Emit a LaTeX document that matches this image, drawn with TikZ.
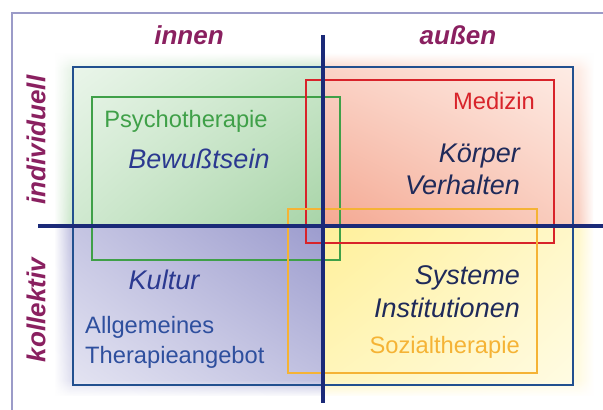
\documentclass[tikz,border=0pt]{standalone}
\usepackage{fontspec}
\setmainfont{Liberation Sans}
\usetikzlibrary{shadings,fadings}
\definecolor{frameC}{HTML}{9B9BC8}
\definecolor{axisC}{HTML}{1B2A78}
\definecolor{blueR}{HTML}{22508F}
\definecolor{redR}{HTML}{D8232A}
\definecolor{greenR}{HTML}{3FA048}
\definecolor{orangeR}{HTML}{F5B335}
\definecolor{headC}{HTML}{8A2060}
\definecolor{navyT}{HTML}{2B3990}
\definecolor{darkT}{HTML}{1F2A5A}
\definecolor{medT}{HTML}{2E4F9E}
% shading corner colours
\definecolor{gUL}{RGB}{238,247,238}\definecolor{gUR}{RGB}{205,232,205}
\definecolor{gLL}{RGB}{210,234,210}\definecolor{gLR}{RGB}{168,212,168}
\definecolor{pUL}{RGB}{251,214,202}\definecolor{pUR}{RGB}{254,240,234}
\definecolor{pLL}{RGB}{244,168,146}\definecolor{pLR}{RGB}{250,208,194}
\definecolor{bUL}{RGB}{200,200,228}\definecolor{bUR}{RGB}{156,156,206}
\definecolor{bLL}{RGB}{232,232,244}\definecolor{bLR}{RGB}{196,196,226}
\definecolor{yUL}{RGB}{255,240,154}\definecolor{yUR}{RGB}{255,248,204}
\definecolor{yLL}{RGB}{255,246,190}\definecolor{yLR}{RGB}{255,252,232}
\tikzfading[name=fadeTop, top color=transparent!0, bottom color=transparent!100]
\tikzfading[name=fadeBot, top color=transparent!100, bottom color=transparent!0]
\tikzfading[name=fadeLeft, left color=transparent!0, right color=transparent!100]
\tikzfading[name=fadeRight, left color=transparent!100, right color=transparent!0]
\tikzset{
  head/.style={font=\fontsize{26}{30}\selectfont\bfseries\itshape, text=headC, inner sep=0pt},
  lbl/.style={font=\fontsize{23.7}{28}\selectfont, inner sep=0pt},
  ilbl/.style={font=\fontsize{27}{32}\selectfont\itshape, inner sep=0pt},
  box/.style={line width=2.6pt},
  axis/.style={line width=3.2pt, draw=axisC},
}
\begin{document}
\begin{tikzpicture}[x=1pt,y=1pt]
\useasboundingbox (0,0) rectangle (603,410);
\fill[white] (0,0) rectangle (603,410);
% quadrant shadings
\shade[upper left=gUL, upper right=gUR, lower left=gLL, lower right=gLR] (55,184) rectangle (323,356);
\shade[upper left=pUL, upper right=pUR, lower left=pLL, lower right=pLR] (323,184) rectangle (593,356);
\shade[upper left=bUL, upper right=bUR, lower left=bLL, lower right=bLR] (55,14) rectangle (323,184);
\shade[upper left=yUL, upper right=yUR, lower left=yLL, lower right=yLR] (323,14) rectangle (593,184);
% soft outer edges
\fill[white, path fading=fadeTop] (54,340) rectangle (594,357);
\fill[white, path fading=fadeBot] (54,13) rectangle (594,30);
\fill[white, path fading=fadeLeft] (54,13) rectangle (70,357);
\fill[white, path fading=fadeRight] (578,13) rectangle (594,357);
% frame
\draw[frameC, line width=1.6pt] (12,0) -- (12,397) -- (603,397);
% coordinates
\coordinate (bl1) at (73,25);  \coordinate (tr1) at (573,343);
\coordinate (bl2) at (306,167); \coordinate (tr2) at (554,330);
\coordinate (bl3) at (92,150); \coordinate (tr3) at (340,313);
\coordinate (bl4) at (288,37); \coordinate (tr4) at (537,201);
\coordinate (vt) at (323,375); \coordinate (vb) at (323,7);
\coordinate (hl) at (38,184); \coordinate (hr) at (603,184);
% rectangles
\draw[box, draw=blueR] (bl1) rectangle (tr1);
\draw[box, draw=greenR] (bl3) rectangle (tr3);
\draw[box, draw=redR] (bl2) rectangle (tr2);
\draw[box, draw=orangeR] (bl4) rectangle (tr4);
% axes
\draw[axis] (vt) -- (vb);
\draw[axis] (hl) -- (hr);
% headings
\node[head] (innen) at (189,375) {innen};
\node[head] (aussen) at (458,375) {außen};
\node[head, rotate=90] (indiv) at (36,270) {individuell};
\node[head, rotate=90] (koll) at (36,100) {kollektiv};
% labels
\node[lbl, text=greenR] (psy) at (186,289) {Psychotherapie};
\node[ilbl, text=navyT] (bew) at (199,251) {Bewußtsein};
\node[lbl, text=redR, anchor=mid east] (med) at (535,303) {Medizin};
\node[ilbl, text=darkT, anchor=mid east] (koer) at (520,250) {Körper};
\node[ilbl, text=darkT, anchor=mid east] (verh) at (520,218) {Verhalten};
\node[ilbl, text=navyT] (kult) at (164,130) {Kultur};
\node[ilbl, text=darkT, anchor=mid east] (sys) at (520,128) {Systeme};
\node[ilbl, text=darkT, anchor=mid east] (inst) at (520,95) {Institutionen};
\node[lbl, text=orangeR, anchor=mid east] (soz) at (520,59) {Sozialtherapie};
\node[lbl, text=medT, anchor=mid west] (allg) at (85,79) {Allgemeines};
\node[lbl, text=medT, anchor=mid west] (ther) at (85,49) {Therapieangebot};
\end{tikzpicture}
\end{document}
